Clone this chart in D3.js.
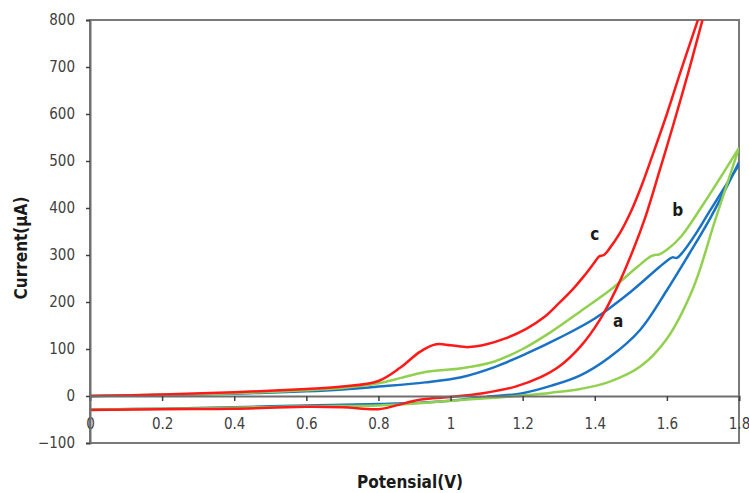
<!DOCTYPE html>
<html>
<head>
<meta charset="utf-8">
<script src="https://cdn.jsdelivr.net/npm/d3@7"></script>
<style>
  body { margin: 0; background: #fff; }
  text { font-family: "DejaVu Sans Condensed", "Liberation Sans Narrow", sans-serif; }
</style>
</head>
<body>
<div id="chart"></div>
<script>
// tick values
const xTicks = [0, 0.2, 0.4, 0.6, 0.8, 1, 1.2, 1.4, 1.6, 1.8];
const yTicks = [-100, 0, 100, 200, 300, 400, 500, 600, 700, 800];

// curve a (blue) - [potential V, current uA]
const aForward = [[0,0],[0.2,2],[0.4,5],[0.6,10],[0.7,14],[0.8,20],[0.93,29],[1.03,40],[1.12,61],[1.21,90],[1.30,123],[1.40,165],[1.50,222],[1.58,275],[1.608,292],[1.615,295],[1.628,294],[1.645,307],[1.68,345],[1.72,395],[1.8,492]];
const aReverse = [[0,-29],[0.2,-27],[0.4,-24],[0.6,-20],[0.8,-17],[0.9,-15],[1.0,-10],[1.1,-2],[1.2,6],[1.28,22],[1.36,44],[1.44,82],[1.525,140],[1.60,225],[1.66,300],[1.72,378],[1.8,497]];

// curve b (green)
const bForward = [[0,0],[0.2,3],[0.4,6],[0.6,12],[0.7,17],[0.8,27],[0.86,38],[0.93,51],[1.03,59],[1.12,73],[1.20,100],[1.28,137],[1.36,180],[1.45,230],[1.52,276],[1.555,297],[1.566,300],[1.578,301],[1.60,311],[1.64,340],[1.70,407],[1.8,528]];
const bReverse = [[0,-29],[0.2,-27],[0.4,-25],[0.6,-22],[0.8,-20],[0.9,-16],[1.0,-10],[1.1,-5],[1.2,1],[1.28,7],[1.36,15],[1.44,30],[1.525,62],[1.60,122],[1.673,230],[1.733,372],[1.8,528]];

// curve c (red)
const cForward = [[0,0],[0.2,3],[0.4,8],[0.6,15],[0.7,20],[0.8,32],[0.86,60],[0.915,94],[0.96,110],[1.0,108],[1.05,104],[1.1,110],[1.15,122],[1.21,143],[1.26,168],[1.30,197],[1.34,228],[1.37,255],[1.40,285],[1.412,297],[1.425,300],[1.44,313],[1.47,347],[1.50,392],[1.53,448],[1.56,512],[1.60,600],[1.64,695],[1.686,800],[1.71,855]];
const cReverse = [[0,-30],[0.2,-28],[0.4,-27],[0.6,-23],[0.7,-24],[0.8,-28],[0.85,-20],[0.9,-10],[0.95,-5],[1.0,-2],[1.09,6],[1.18,20],[1.25,40],[1.30,62],[1.36,105],[1.414,162],[1.461,230],[1.506,310],[1.54,380],[1.58,480],[1.617,575],[1.66,690],[1.697,795],[1.72,860]];

const series = [
  { name: "a", color: "#1a72c4", branches: [aForward, aReverse] },
  { name: "b", color: "#92d050", branches: [bForward, bReverse] },
  { name: "c", color: "#ff1a1a", branches: [cForward, cReverse] }
];
const labels = [["a", 1.465, 160], ["b", 1.63, 395], ["c", 1.40, 345]];

const width = 749, height = 493;
const margin = { top: 20, right: 10, bottom: 50, left: 90 };

const svg = d3.select("#chart").append("svg")
  .attr("width", width)
  .attr("height", height);

const x = d3.scaleLinear().domain([0, 1.8]).range([margin.left, width - margin.right]);
const y = d3.scaleLinear().domain([-100, 800]).range([height - margin.bottom, margin.top]);

svg.append("defs").append("clipPath").attr("id", "plot")
  .append("rect")
  .attr("x", x(0)).attr("y", y(800))
  .attr("width", x(1.8) - x(0)).attr("height", y(-100) - y(800));

// frame
svg.append("rect")
  .attr("x", x(0)).attr("y", y(800))
  .attr("width", x(1.8) - x(0)).attr("height", y(-100) - y(800))
  .attr("fill", "none")
  .attr("stroke", "#7a7a7a")
  .attr("stroke-width", 2);

// curves
const line = d3.line()
  .x(d => x(d[0]))
  .y(d => y(d[1]))
  .curve(d3.curveCatmullRom.alpha(0.5));

const g = svg.append("g").attr("clip-path", "url(#plot)");
series.forEach(s => {
  s.branches.forEach(b => {
    g.append("path")
      .attr("d", line(b))
      .attr("fill", "none")
      .attr("stroke", s.color)
      .attr("stroke-width", 2.5)
      .attr("stroke-linejoin", "round");
  });
});

// x axis at zero
const xAxis = svg.append("g")
  .attr("transform", `translate(0,${y(0)})`)
  .call(d3.axisBottom(x).tickValues(xTicks).tickSize(5).tickPadding(17).tickFormat(d3.format("~g")));
xAxis.select(".domain").attr("stroke", "#6e6e6e").attr("stroke-width", 2);
xAxis.selectAll(".tick line").attr("stroke", "#404040").attr("stroke-width", 1.5);
xAxis.selectAll(".tick text").attr("fill", "#404040").style("font-size", "15px");

// y axis
const yAxis = svg.append("g")
  .attr("transform", `translate(${x(0)},0)`)
  .call(d3.axisLeft(y).tickValues(yTicks).tickSize(4).tickPadding(11));
yAxis.select(".domain").attr("stroke", "#6e6e6e").attr("stroke-width", 2);
yAxis.selectAll(".tick line").attr("stroke", "#404040").attr("stroke-width", 1.5);
yAxis.selectAll(".tick text").attr("fill", "#404040").style("font-size", "15px");

// curve labels
svg.selectAll(".lbl")
  .data(labels)
  .enter().append("text")
  .attr("x", d => x(d[1]))
  .attr("y", d => y(d[2]))
  .attr("text-anchor", "middle")
  .attr("dy", "0.35em")
  .style("font-size", "17px")
  .style("font-weight", "bold")
  .attr("fill", "#1a1a1a")
  .text(d => d[0]);

// axis titles
svg.append("text")
  .attr("x", 410)
  .attr("y", 488)
  .attr("text-anchor", "middle")
  .style("font-size", "17px")
  .style("font-weight", "bold")
  .attr("fill", "#1a1a1a")
  .text("Potensial(V)");

svg.append("text")
  .attr("transform", "translate(27,248) rotate(-90)")
  .attr("text-anchor", "middle")
  .style("font-size", "17px")
  .style("font-weight", "bold")
  .attr("fill", "#1a1a1a")
  .text("Current(μA)");
</script>
</body>
</html>
